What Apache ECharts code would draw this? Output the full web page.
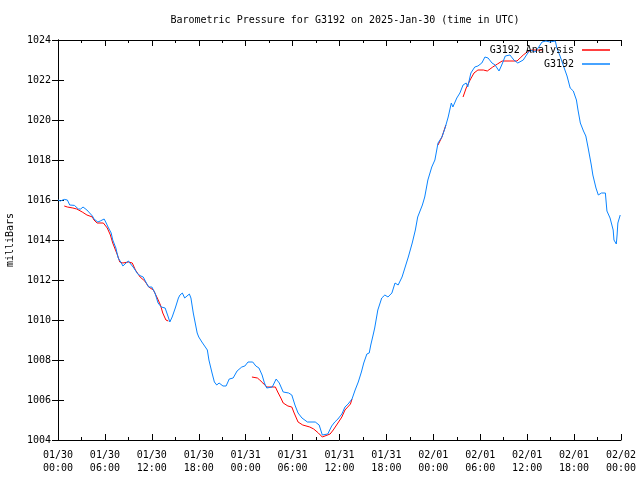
<!DOCTYPE html>
<html>
<head>
<meta charset="utf-8">
<script src="https://cdn.jsdelivr.net/npm/echarts@6/dist/echarts.min.js"></script>
<style>html,body{margin:0;padding:0;background:#fff}#c{width:640px;height:480px}</style>
</head>
<body>
<div id="c"></div>
<script>
// hours since 2025-01-30 00:00 UTC
var obsHours = [0,0.3,0.8,1.2,1.5,2.1,2.6,2.9,3.2,3.7,4.4,4.6,5.1,5.4,5.9,6.1,6.4,6.8,7.0,7.4,7.7,8.1,8.3,8.7,9.0,9.3,9.7,10.2,10.6,10.9,11.3,11.6,12.0,12.4,12.8,13.2,13.3,13.7,14.1,14.3,14.6,15.0,15.4,15.6,15.9,16.2,16.8,17.0,17.3,17.8,18.0,18.4,18.5,19.1,19.3,19.7,20.0,20.3,20.6,21.1,21.5,21.9,22.4,22.9,23.0,23.5,23.9,24.3,24.9,25.3,25.7,26.1,26.4,26.7,27.4,27.5,27.9,28.3,28.8,29.0,29.5,29.9,30.3,30.7,31.2,31.9,32.9,33.1,33.4,33.8,34.0,34.5,35.0,35.4,35.8,36.3,36.7,37.1,37.6,38.0,38.4,38.8,39.1,39.5,39.8,40.0,40.3,40.5,40.9,41.4,41.8,42.2,42.7,43.1,43.5,44.0,44.4,44.8,45.3,45.7,46.0,46.6,46.9,47.3,47.8,48.2,48.6,49.1,49.5,49.9,50.3,50.5,51.0,51.4,51.8,52.2,52.4,52.8,53.3,53.7,54.2,54.6,55.0,55.5,55.9,56.4,56.8,57.2,57.8,58.3,58.8,59.5,60.0,60.4,61.0,61.4,61.9,62.4,62.9,63.6,63.8,64.2,64.6,65.1,65.5,65.9,66.3,66.5,66.8,67.2,67.5,67.8,68.2,68.4,68.8,69.1,69.5,69.7,70.0,70.2,70.6,71.0,71.1,71.4,71.5,71.6,71.9];
var obsValues = [1016.0,1015.95,1016.03,1016.0,1015.75,1015.73,1015.55,1015.55,1015.65,1015.5,1015.2,1015.05,1014.9,1014.95,1015.05,1014.9,1014.65,1014.35,1014.0,1013.6,1013.1,1012.85,1012.7,1012.85,1012.95,1012.8,1012.6,1012.3,1012.2,1012.15,1011.85,1011.65,1011.65,1011.35,1010.85,1010.65,1010.75,1010.6,1010.15,1009.9,1010.15,1010.6,1011.1,1011.25,1011.35,1011.1,1011.3,1011.1,1010.35,1009.35,1009.15,1008.9,1009.0,1008.5,1008.0,1007.35,1006.9,1006.75,1006.85,1006.7,1006.7,1007.05,1007.1,1007.45,1007.4,1007.65,1007.7,1007.9,1007.9,1007.7,1007.6,1007.25,1006.85,1006.6,1006.65,1006.65,1007.05,1006.85,1006.4,1006.45,1006.35,1006.25,1005.75,1005.35,1005.1,1004.9,1004.9,1005.0,1004.75,1004.25,1004.2,1004.3,1004.7,1004.9,1005.05,1005.3,1005.65,1005.8,1006.05,1006.5,1006.9,1007.4,1007.85,1008.3,1008.35,1008.75,1009.25,1009.6,1010.5,1011.1,1011.25,1011.15,1011.35,1011.85,1011.75,1012.15,1012.65,1013.15,1013.85,1014.5,1015.15,1015.75,1016.15,1017.0,1017.65,1018.0,1018.85,1019.15,1019.6,1020.15,1020.85,1020.65,1021.1,1021.35,1021.75,1021.85,1021.65,1022.35,1022.65,1022.7,1022.85,1023.15,1023.1,1022.85,1022.75,1022.45,1022.8,1023.2,1023.25,1023.0,1022.85,1023.0,1023.3,1023.5,1023.4,1023.6,1023.9,1023.95,1023.9,1023.95,1023.6,1023.2,1022.75,1022.2,1021.6,1021.45,1021.0,1020.5,1019.85,1019.45,1019.2,1018.6,1017.75,1017.25,1016.6,1016.25,1016.35,1016.25,1016.35,1015.45,1015.1,1014.5,1014.0,1013.8,1014.25,1014.85,1015.25];
// analysis series; null marks a gap
var anaHours = [0.8,1.2,1.9,2.4,3.1,3.7,4.4,4.6,5.0,5.8,6.3,6.7,7.0,7.6,7.9,8.3,9.0,9.5,9.9,10.5,11.1,11.6,12.2,12.7,13.1,13.4,13.8,14.1,14.5,24.8,25.5,25.8,26.2,26.7,27.4,27.8,28.1,28.5,28.8,29.4,29.9,30.2,30.3,30.7,31.3,32.2,32.7,33.3,33.8,34.0,34.8,35.2,35.8,36.3,36.7,37.4,37.6,38.0,48.6,49.1,49.6,50.0,51.8,52.2,52.7,53.2,53.7,54.4,54.9,55.6,56.2,56.8,57.8,58.7,59.1,59.5,60.0,60.6,61.3,62.0];
var anaValues = [1015.7,1015.65,1015.6,1015.55,1015.4,1015.25,1015.15,1015.0,1014.85,1014.85,1014.6,1014.25,1013.85,1013.25,1012.9,1012.85,1012.9,1012.85,1012.5,1012.15,1011.95,1011.65,1011.5,1011.1,1010.75,1010.35,1010.0,1009.95,null,1007.15,1007.1,1007.0,1006.85,1006.65,1006.65,1006.65,1006.4,1006.1,1005.85,1005.7,1005.65,1005.35,1005.25,1004.9,1004.75,1004.65,1004.55,1004.35,1004.15,1004.2,1004.3,1004.5,1004.85,1005.15,1005.5,1005.8,1006.05,null,1018.75,1019.15,1019.75,null,1021.15,1021.6,1022.0,1022.35,1022.5,1022.5,1022.45,1022.65,1022.8,1022.95,1022.95,1022.95,1023.1,1023.25,1023.4,1023.5,1023.5,1023.5];
var dayLabels = ['01/30','01/31','02/01','02/02'];
var seriesNames = ['G3192 Analysis','G3192'];
var titleText = 'Barometric Pressure for G3192 on 2025-Jan-30 (time in UTC)';
var yName = 'milliBars';

function zip(a,b){var r=[];for(var i=0;i<a.length;i++)r.push([a[i],b[i]]);return r;}
var FONT = "'DejaVu Sans Mono', monospace";
var chart = echarts.init(document.getElementById('c'), null, {renderer:'canvas'});
var axisLine = {show:true, lineStyle:{color:'#000', width:1}};
chart.setOption({
  animation:false,
  backgroundColor:'#fff',
  title:{text:titleText, left:340, textAlign:'center', top:10,
    textStyle:{fontFamily:FONT, fontSize:10, fontWeight:'normal', color:'#000'}},
  legend:{orient:'vertical', right:25, top:39, align:'right', itemWidth:28, itemHeight:1.5, itemGap:2,
    icon:'rect', data:seriesNames,
    textStyle:{fontFamily:FONT, fontSize:10, color:'#000', lineHeight:12, padding:[0,3,0,0]}},
  grid:{left:58, right:19, top:40, bottom:40, containLabel:false, outerBoundsMode:'none'},
  xAxis:[{type:'value', min:0, max:72, interval:6,
    axisLine:axisLine, splitLine:{show:false},
    axisTick:{show:true, inside:true, length:6, lineStyle:{color:'#000'}},
    minorTick:{show:true, splitNumber:2, length:3, lineStyle:{color:'#000'}},
    axisLabel:{margin:9, fontFamily:FONT, fontSize:10, color:'#000', lineHeight:13,
      formatter:function(v){var d=Math.floor(v/24+1e-9);var h=Math.round(v-24*d);return dayLabels[d]+'\n'+(h<10?'0':'')+h+':00';}}},
   {type:'value', position:'top', min:0, max:72, interval:6,
    axisLine:axisLine, splitLine:{show:false}, axisLabel:{show:false},
    axisTick:{show:true, inside:true, length:6, lineStyle:{color:'#000'}},
    minorTick:{show:true, splitNumber:2, length:3, lineStyle:{color:'#000'}}}],
  yAxis:[{type:'value', min:1004, max:1024, interval:2,
    axisLine:axisLine, splitLine:{show:false},
    axisTick:{show:true, inside:true, length:6, lineStyle:{color:'#000'}},
    axisLabel:{margin:7, fontFamily:FONT, fontSize:10, color:'#000', formatter:function(v){return String(Math.round(v));}},
    name:yName, nameLocation:'middle', nameRotate:90, nameGap:43,
    nameTextStyle:{fontFamily:FONT, fontSize:10, color:'#000'}},
   {type:'value', position:'right', min:1004, max:1024, interval:2,
    axisLine:axisLine, splitLine:{show:false}, axisLabel:{show:false},
    axisTick:{show:true, inside:true, length:6, lineStyle:{color:'#000'}}}],
  series:[
    {name:seriesNames[0], type:'line', data:zip(anaHours, anaValues), showSymbol:false, connectNulls:false,
      color:'#ff0000', lineStyle:{width:1, color:'#ff0000'}},
    {name:seriesNames[1], type:'line', data:zip(obsHours, obsValues), showSymbol:false,
      color:'#0a84ff', lineStyle:{width:1, color:'#0a84ff'}}
  ]
});
</script>
</body>
</html>
